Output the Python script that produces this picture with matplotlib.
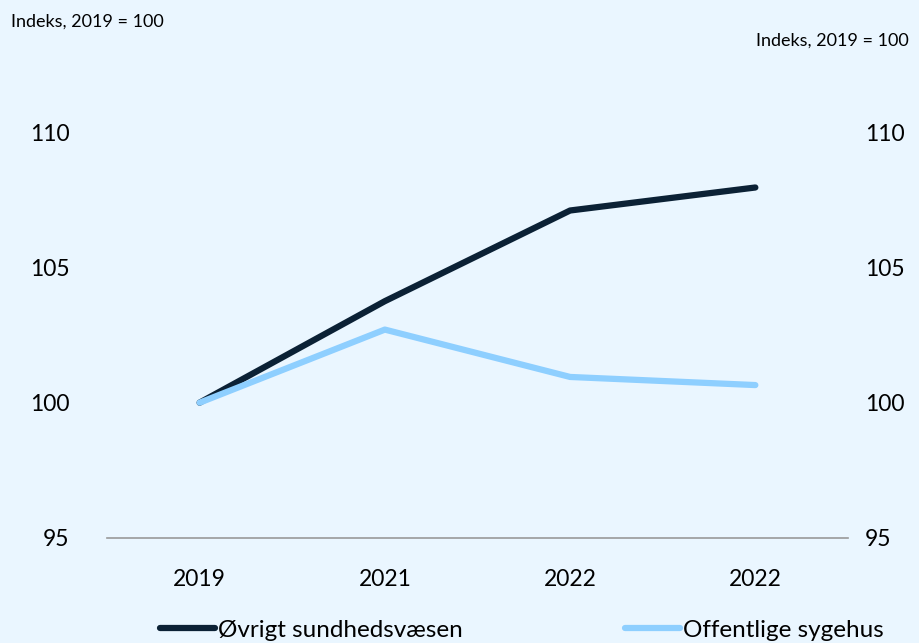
import matplotlib.pyplot as plt

plt.rcParams['font.family'] = ['Lato', 'DejaVu Sans']

# data
years = ["2019", "2021", "2022", "2022"]
ovrigt = [100, 103.75, 107.1, 107.95]
sygehus = [100, 102.7, 100.95, 100.65]
yticks = [95, 100, 105, 110]

bg = "#EAF6FF"
dark = "#0B2135"
light = "#8ECFFF"

fig = plt.figure(figsize=(9.2, 6.43), dpi=100, facecolor=bg)
ax = fig.add_axes([0.1163, 0.1633, 0.8054, 0.6314])
ax.set_facecolor(bg)

x = list(range(len(years)))
l1, = ax.plot(x, ovrigt, color=dark, lw=4.5, solid_capstyle="round", label="Øvrigt sundhedsvæsen")
l2, = ax.plot(x, sygehus, color=light, lw=4.5, solid_capstyle="round", label="Offentlige sygehus")

ax.set_xlim(-0.5, 3.5)
ax.set_ylim(95, 110)
ax.set_xticks(x)
ax.set_xticklabels(years)
ax.set_yticks(yticks)

for s in ["top", "left", "right"]:
    ax.spines[s].set_visible(False)
ax.spines["bottom"].set_color("#999999")
ax.spines["bottom"].set_linewidth(1.2)

ax.tick_params(axis="x", length=0, pad=22, labelsize=16.5)
ax.tick_params(axis="y", length=0, pad=27, labelsize=16.5)

ax2 = ax.twinx()
ax2.set_ylim(95, 110)
ax2.set_yticks(yticks)
for s in ["top", "left", "right", "bottom"]:
    ax2.spines[s].set_visible(False)
ax2.tick_params(axis="y", length=0, pad=12, labelsize=16.5)

fig.text(0.012, 0.967, "Indeks, 2019 = 100", fontsize=13, ha="left", va="center")
fig.text(0.988, 0.937, "Indeks, 2019 = 100", fontsize=13, ha="right", va="center")

leg1 = fig.legend(handles=[l1], loc="center left", bbox_to_anchor=(160 / 920, 0.02),
                  frameon=False, fontsize=17.5, handlelength=2.25, handletextpad=0.12,
                  borderpad=0, borderaxespad=0)
leg2 = fig.legend(handles=[l2], loc="center left", bbox_to_anchor=(625 / 920, 0.02),
                  frameon=False, fontsize=17.5, handlelength=2.25, handletextpad=0.12,
                  borderpad=0, borderaxespad=0)

fig.savefig("out.png", dpi=100, facecolor=bg)
